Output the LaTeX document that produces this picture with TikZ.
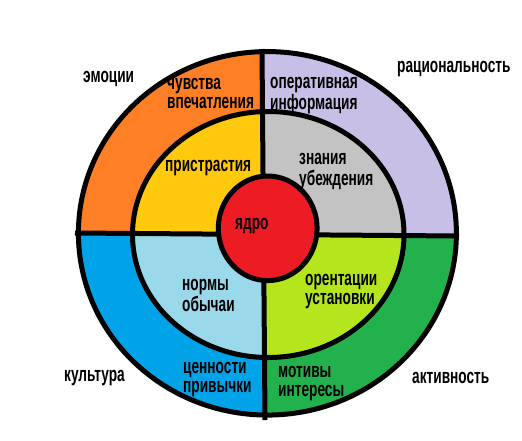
\documentclass[tikz,border=0pt]{standalone}
\usepackage{fontspec}
\setmainfont{Liberation Sans}
\newcommand{\lbl}[1]{\scalebox{0.72}[1.1]{\bfseries\begin{tabular}{@{}l@{}}#1\end{tabular}}}
\definecolor{cOrange}{HTML}{FF7F27}
\definecolor{cLav}{HTML}{C8BFE7}
\definecolor{cYellow}{HTML}{FFC90E}
\definecolor{cGray}{HTML}{C3C3C3}
\definecolor{cBlue}{HTML}{00A2E8}
\definecolor{cLBlue}{HTML}{99D9EA}
\definecolor{cLime}{HTML}{B5E61D}
\definecolor{cGreen}{HTML}{22B14C}
\definecolor{cRed}{HTML}{ED1C24}
\begin{document}
\begin{tikzpicture}[x=1pt,y=-1pt,
  lbl/.style={anchor=west, inner sep=0pt, font=\fontsize{19}{18}\selectfont},
  ring/.style={draw=black, line width=5pt}]
\fill[white] (0,0) rectangle (522,440);
\useasboundingbox (0,0) rectangle (522,440);
% outer ring quadrants
\begin{scope}
\clip (267.4,233.3) ellipse [x radius=189pt, y radius=181.75pt];
\fill[cOrange] (0,0) rectangle (263.5,234.5);
\fill[cLav] (263.5,0) rectangle (522,234.5);
\fill[cBlue] (0,234.5) rectangle (263.5,440);
\fill[cGreen] (263.5,234.5) rectangle (522,440);
\end{scope}
% middle ring quadrants
\begin{scope}
\clip (268.25,234.5) ellipse [x radius=135.75pt, y radius=123pt];
\fill[cYellow] (0,0) rectangle (263.5,234.5);
\fill[cGray] (263.5,0) rectangle (522,234.5);
\fill[cLBlue] (0,234.5) rectangle (263.5,440);
\fill[cLime] (263.5,234.5) rectangle (522,440);
\end{scope}
\draw[ring] (267.4,233.3) ellipse [x radius=189pt, y radius=181.75pt];
\draw[ring] (268.25,234.5) ellipse [x radius=135.75pt, y radius=123pt];
\coordinate (hl) at (75,233);
\coordinate (hr) at (459,236);
\coordinate (vt) at (262,49);
\coordinate (vb) at (265,420);
\draw[line width=5pt] (hl) -- (hr);
\draw[line width=5pt] (vt) -- (vb);
\draw[ring, fill=cRed] (267.7,228.3) ellipse [x radius=49.4pt, y radius=52.3pt];
% labels
\node[lbl] (emo) at (83,79) {\lbl{эмоции}};
\node[lbl] (rac) at (397,69) {\lbl{рациональность}};
\node[lbl] (kul) at (64,378) {\lbl{культура}};
\node[lbl] (akt) at (412,380) {\lbl{активность}};
\node[lbl] (chu) at (167,95) {\lbl{чувства\\впечатления}};
\node[lbl] (ope) at (270,95) {\lbl{оперативная\\информация}};
\node[lbl] (pri) at (165,168) {\lbl{пристрастия}};
\node[lbl] (zna) at (299,171) {\lbl{знания\\убеждения}};
\node[lbl] (yad) at (235,226) {\lbl{ядро}};
\node[lbl] (nor) at (182,297) {\lbl{нормы\\обычаи}};
\node[lbl] (ore) at (305,291) {\lbl{орентации\\установки}};
\node[lbl] (cen) at (183,379) {\lbl{ценности\\привычки}};
\node[lbl] (mot) at (278,383) {\lbl{мотивы\\интересы}};
\end{tikzpicture}
\end{document}
